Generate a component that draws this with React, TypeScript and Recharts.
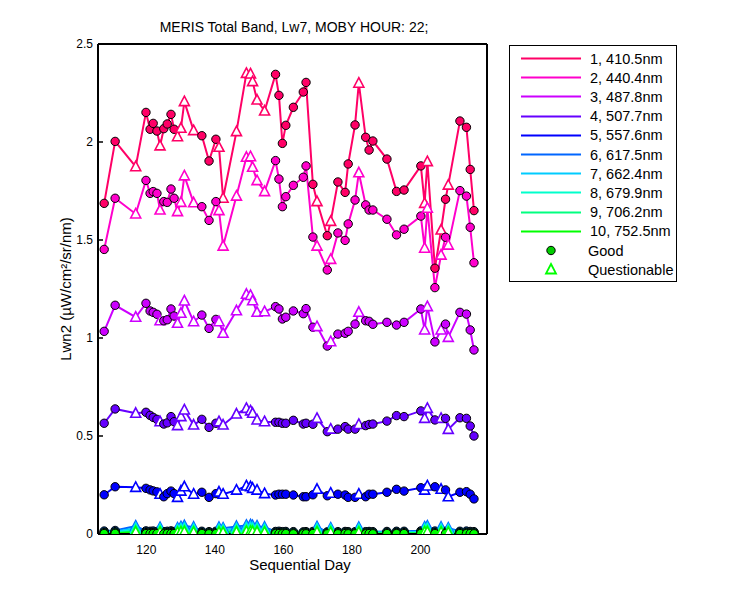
import { LineChart, Line, XAxis, YAxis } from "recharts";

const FONT = '"Liberation Sans", Arial, sans-serif';

// sequential day of each MOBY match-up
const DAYS = [
  107.7, 110.9, 116.9, 119.9, 121.1, 122.0, 123.1, 124.0, 125.1, 126.1,
  127.2, 128.1, 129.1, 130.1, 131.1, 133.8, 136.2, 138.3, 140.3, 141.2,
  142.4, 146.3, 149.2, 150.4, 151.0, 152.3, 154.5, 157.7, 158.7, 159.7,
  160.7, 162.9, 165.8, 166.6, 168.6, 169.8, 172.8, 173.8, 175.9, 178.0,
  178.9, 180.9, 182.0, 184.0, 185.0, 186.1, 190.2, 193.0, 195.2, 200.1,
  201.2, 202.0, 204.2, 206.0, 207.3, 208.1, 211.5, 213.4, 214.5, 215.6,
];

// G = good, Q = questionable
const QUALITY = [
  "G", "G", "Q", "G", "G", "G", "G", "Q", "G", "G",
  "G", "G", "Q", "Q", "Q", "Q", "G", "G", "G", "Q",
  "Q", "Q", "Q", "Q", "Q", "Q", "Q", "G", "G", "G",
  "G", "G", "G", "G", "G", "Q", "G", "Q", "G", "G",
  "G", "G", "Q", "G", "G", "G", "G", "G", "G", "G",
  "Q", "Q", "G", "Q", "G", "Q", "G", "G", "G", "G",
];

const BAND1 = [
  1.687, 2.003, 1.874, 2.151, 2.065, 2.095, 2.056, 1.98, 2.068, 2.092,
  2.141, 2.065, 2.027, 2.07, 2.206, 2.058, 2.032, 1.903, 2.014, 1.973,
  1.713, 2.053, 2.35, 2.347, 2.308, 2.214, 2.158, 2.345, 2.238, 1.993,
  2.085, 2.177, 2.255, 2.304, 1.784, 1.696, 1.522, 1.595, 1.796, 1.743,
  1.888, 2.087, 2.3, 2.024, 1.959, 2.005, 1.913, 1.748, 1.755, 1.878,
  1.687, 1.9, 1.356, 1.551, 1.708, 1.78, 2.107, 2.075, 1.86, 1.65,
];
const BAND2 = [
  1.452, 1.713, 1.633, 1.804, 1.738, 1.747, 1.738, 1.653, 1.696, 1.692,
  1.76, 1.713, 1.645, 1.692, 1.827, 1.69, 1.67, 1.6, 1.696, 1.65,
  1.469, 1.724, 1.922, 1.925, 1.871, 1.803, 1.747, 1.905, 1.811, 1.67,
  1.721, 1.779, 1.82, 1.878, 1.515, 1.469, 1.347, 1.401, 1.536, 1.498,
  1.582, 1.704, 1.843, 1.679, 1.653, 1.653, 1.606, 1.526, 1.555, 1.622,
  1.458, 1.662, 1.257, 1.423, 1.514, 1.474, 1.752, 1.724, 1.565, 1.384,
];
const BAND3 = [
  1.034, 1.167, 1.106, 1.177, 1.138, 1.131, 1.121, 1.088, 1.088, 1.093,
  1.148, 1.112, 1.075, 1.126, 1.189, 1.083, 1.117, 1.049, 1.095, 1.083,
  1.024, 1.139, 1.223, 1.217, 1.19, 1.131, 1.134, 1.16, 1.148, 1.097,
  1.106, 1.138, 1.124, 1.15, 1.055, 1.058, 0.959, 0.981, 1.02, 1.024,
  1.034, 1.071, 1.131, 1.088, 1.085, 1.07, 1.08, 1.066, 1.08, 1.148,
  1.041, 1.16, 0.98, 1.041, 1.071, 1.003, 1.131, 1.122, 1.041, 0.939,
];
const BAND4 = [
  0.565, 0.638, 0.616, 0.621, 0.605, 0.595, 0.585, 0.573, 0.561, 0.567,
  0.599, 0.573, 0.553, 0.599, 0.633, 0.556, 0.585, 0.544, 0.565, 0.573,
  0.556, 0.612, 0.641, 0.628, 0.616, 0.582, 0.573, 0.57, 0.57, 0.565,
  0.565, 0.58, 0.561, 0.565, 0.56, 0.59, 0.522, 0.535, 0.535, 0.548,
  0.535, 0.535, 0.559, 0.553, 0.559, 0.561, 0.576, 0.604, 0.599, 0.628,
  0.59, 0.641, 0.582, 0.59, 0.59, 0.534, 0.593, 0.59, 0.551, 0.5,
];
const BAND5 = [
  0.2, 0.241, 0.238, 0.233, 0.225, 0.22, 0.215, 0.203, 0.19, 0.206,
  0.219, 0.206, 0.187, 0.219, 0.241, 0.203, 0.213, 0.187, 0.206, 0.214,
  0.203, 0.224, 0.245, 0.241, 0.233, 0.224, 0.206, 0.199, 0.203, 0.203,
  0.203, 0.199, 0.19, 0.19, 0.2, 0.228, 0.195, 0.208, 0.203, 0.199,
  0.187, 0.187, 0.203, 0.19, 0.203, 0.203, 0.213, 0.228, 0.219, 0.236,
  0.224, 0.245, 0.241, 0.228, 0.225, 0.19, 0.213, 0.216, 0.203, 0.179,
];
const BAND6 = [
  0.015, 0.018, 0.04, 0.016, 0.014, 0.015, 0.013, 0.032, 0.012, 0.014,
  0.016, 0.013, 0.03, 0.036, 0.042, 0.034, 0.014, 0.012, 0.014, 0.033,
  0.03, 0.038, 0.044, 0.046, 0.042, 0.04, 0.034, 0.013, 0.014, 0.012,
  0.013, 0.012, 0.011, 0.012, 0.013, 0.036, 0.011, 0.03, 0.012, 0.013,
  0.012, 0.012, 0.033, 0.012, 0.013, 0.012, 0.013, 0.014, 0.014, 0.016,
  0.035, 0.04, 0.015, 0.034, 0.014, 0.03, 0.014, 0.015, 0.013, 0.012,
];
const BAND7 = [
  0.01, 0.012, 0.03, 0.011, 0.01, 0.01, 0.009, 0.024, 0.008, 0.01,
  0.011, 0.009, 0.022, 0.027, 0.031, 0.025, 0.01, 0.008, 0.01, 0.024,
  0.022, 0.028, 0.033, 0.034, 0.031, 0.03, 0.025, 0.009, 0.01, 0.008,
  0.009, 0.008, 0.008, 0.008, 0.009, 0.027, 0.008, 0.022, 0.008, 0.009,
  0.008, 0.008, 0.024, 0.008, 0.009, 0.008, 0.009, 0.01, 0.01, 0.011,
  0.026, 0.03, 0.01, 0.025, 0.01, 0.022, 0.01, 0.01, 0.009, 0.008,
];
const BAND8 = [
  0.007, 0.008, 0.022, 0.007, 0.007, 0.007, 0.006, 0.018, 0.006, 0.007,
  0.007, 0.006, 0.016, 0.02, 0.023, 0.018, 0.007, 0.006, 0.007, 0.018,
  0.016, 0.021, 0.024, 0.025, 0.023, 0.022, 0.018, 0.006, 0.007, 0.006,
  0.006, 0.006, 0.005, 0.006, 0.006, 0.02, 0.005, 0.016, 0.006, 0.006,
  0.006, 0.006, 0.018, 0.006, 0.006, 0.006, 0.006, 0.007, 0.007, 0.008,
  0.019, 0.022, 0.007, 0.018, 0.007, 0.016, 0.007, 0.007, 0.006, 0.006,
];
const BAND9 = [
  0.004, 0.005, 0.015, 0.004, 0.004, 0.004, 0.004, 0.012, 0.003, 0.004,
  0.004, 0.004, 0.011, 0.013, 0.016, 0.012, 0.004, 0.003, 0.004, 0.012,
  0.011, 0.014, 0.017, 0.017, 0.016, 0.015, 0.012, 0.004, 0.004, 0.003,
  0.004, 0.003, 0.003, 0.003, 0.004, 0.013, 0.003, 0.011, 0.003, 0.004,
  0.003, 0.003, 0.012, 0.003, 0.004, 0.003, 0.004, 0.004, 0.004, 0.005,
  0.013, 0.015, 0.004, 0.012, 0.004, 0.011, 0.004, 0.004, 0.004, 0.003,
];
const BAND10 = [
  0.002, 0.003, 0.01, 0.002, 0.002, 0.002, 0.002, 0.008, 0.001, 0.002,
  0.002, 0.002, 0.007, 0.009, 0.011, 0.008, 0.002, 0.001, 0.002, 0.008,
  0.007, 0.009, 0.012, 0.012, 0.011, 0.01, 0.008, 0.002, 0.002, 0.001,
  0.002, 0.001, 0.001, 0.001, 0.002, 0.009, 0.001, 0.007, 0.001, 0.002,
  0.001, 0.001, 0.008, 0.001, 0.002, 0.001, 0.002, 0.002, 0.002, 0.003,
  0.009, 0.01, 0.002, 0.008, 0.002, 0.007, 0.002, 0.002, 0.002, 0.001,
];

const BANDS = [BAND1, BAND2, BAND3, BAND4, BAND5, BAND6, BAND7, BAND8, BAND9, BAND10];

const BAND_LABELS = [
  "1, 410.5nm",
  "2, 440.4nm",
  "3, 487.8nm",
  "4, 507.7nm",
  "5, 557.6nm",
  "6, 617.5nm",
  "7, 662.4nm",
  "8, 679.9nm",
  "9, 706.2nm",
  "10, 752.5nm",
];

const BAND_COLORS = [
  "#ff0066",
  "#ff00cc",
  "#cc00ff",
  "#6600ff",
  "#0000ff",
  "#0066ff",
  "#00ccff",
  "#00ffcc",
  "#00ff80",
  "#00ff00",
];

const X_TICKS = [120, 140, 160, 180, 200];
const Y_TICKS = [0, 0.5, 1, 1.5, 2, 2.5];

const rows = DAYS.map((day, i) => {
  const row: Record<string, number | string> = { day, q: QUALITY[i] };
  BANDS.forEach((band, b) => {
    row[`b${b + 1}`] = band[i];
  });
  return row;
});

function markerFor(color: string) {
  return (props: any) => {
    const { cx, cy, payload, index, dataKey } = props;
    const key = `${dataKey}-${index}`;
    if (cx == null || cy == null) return <g key={key} />;
    if (payload.q === "Q") {
      return (
        <path
          key={key}
          d={`M${cx},${cy - 5.5} L${cx + 5},${cy + 4} L${cx - 5},${cy + 4} Z`}
          fill="#fff"
          stroke={color}
          strokeWidth={1.6}
        />
      );
    }
    return (
      <circle key={key} cx={cx} cy={cy} r={4.2} fill={color} stroke="#000" strokeWidth={1} />
    );
  };
}

function LegendBox() {
  return (
    <div
      style={{
        position: "absolute",
        left: 509,
        top: 45,
        width: 166,
        height: 235,
        border: "1.5px solid #000",
        background: "#fff",
        fontFamily: FONT,
        fontSize: 14.5,
        color: "#000",
      }}
    >
      {BAND_LABELS.map((label, i) => (
        <div
          key={label}
          style={{ position: "absolute", left: 0, top: 3 + i * 19.2, height: 19, display: "flex", alignItems: "center" }}
        >
          <svg width={80} height={19} style={{ display: "block" }}>
            <line x1={11} x2={71} y1={9.5} y2={9.5} stroke={BAND_COLORS[i]} strokeWidth={2} />
          </svg>
          <span style={{ whiteSpace: "nowrap" }}>{label}</span>
        </div>
      ))}
      <div style={{ position: "absolute", left: 0, top: 3 + 10 * 19.2, height: 19, display: "flex", alignItems: "center" }}>
        <svg width={78} height={19} style={{ display: "block" }}>
          <circle cx={41} cy={9.5} r={4.2} fill="#00cc00" stroke="#000" strokeWidth={1} />
        </svg>
        <span>Good</span>
      </div>
      <div style={{ position: "absolute", left: 0, top: 3 + 11 * 19.2, height: 19, display: "flex", alignItems: "center" }}>
        <svg width={78} height={19} style={{ display: "block" }}>
          <path d="M41,4 L46,13.5 L36,13.5 Z" fill="#fff" stroke="#00ff00" strokeWidth={1.8} />
        </svg>
        <span>Questionable</span>
      </div>
    </div>
  );
}

export default function App() {
  const tickStyle = { fill: "#000", fontSize: 12, fontFamily: FONT };
  const axisLine = { stroke: "#000", strokeWidth: 2 };
  const tickLine = { stroke: "#000", strokeWidth: 1.5 };
  return (
    <div style={{ position: "absolute", left: 0, top: 0, width: 750, height: 600, background: "#fff" }}>
      <LineChart width={750} height={600} data={rows} margin={{ top: 43, right: 262, bottom: 36, left: 58 }}>
        <XAxis
          dataKey="day"
          type="number"
          domain={[105.9, 219.4]}
          ticks={X_TICKS}
          allowDataOverflow
          height={30}
          tickSize={-5}
          tickMargin={16}
          axisLine={axisLine}
          tickLine={tickLine}
          tick={tickStyle}
        />
        <XAxis
          xAxisId="top"
          orientation="top"
          dataKey="day"
          type="number"
          domain={[105.9, 219.4]}
          ticks={X_TICKS}
          allowDataOverflow
          height={1}
          tickSize={-5}
          axisLine={axisLine}
          tickLine={tickLine}
          tick={false}
        />
        <YAxis
          type="number"
          domain={[0, 2.5]}
          ticks={Y_TICKS}
          allowDataOverflow
          width={40}
          tickSize={-5}
          tickMargin={10}
          axisLine={axisLine}
          tickLine={tickLine}
          tick={tickStyle}
          tickFormatter={(v: number) => String(v)}
        />
        <YAxis
          yAxisId="right"
          orientation="right"
          type="number"
          domain={[0, 2.5]}
          ticks={Y_TICKS}
          allowDataOverflow
          width={1}
          tickSize={-5}
          axisLine={axisLine}
          tickLine={tickLine}
          tick={false}
        />
        {BAND_COLORS.map((color, b) => (
          <Line
            key={b}
            dataKey={`b${b + 1}`}
            stroke={color}
            strokeWidth={2}
            dot={markerFor(color)}
            activeDot={false}
            isAnimationActive={false}
          />
        ))}
      </LineChart>
      <svg
        width={750}
        height={600}
        style={{ position: "absolute", left: 0, top: 0, pointerEvents: "none" }}
      >
        <text x={294} y={32} textAnchor="middle" fontSize={14} fontFamily={FONT} fill="#000">
          MERIS Total Band, Lw7, MOBY HOUR: 22;
        </text>
        <text x={300} y={570} textAnchor="middle" fontSize={15} fontFamily={FONT} fill="#000">
          Sequential Day
        </text>
        <text
          x={71}
          y={289}
          textAnchor="middle"
          fontSize={15}
          fontFamily={FONT}
          fill="#000"
          transform="rotate(-90 71 289)"
        >
          Lwn2 (µW/cm²/sr/nm)
        </text>
      </svg>
      <LegendBox />
    </div>
  );
}
